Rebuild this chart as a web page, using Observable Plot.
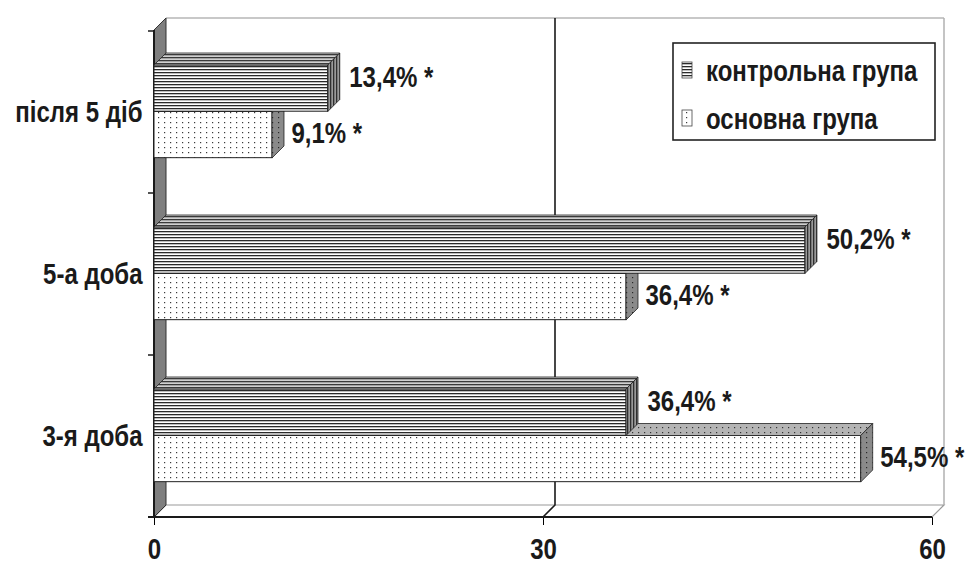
<!DOCTYPE html>
<html>
<head>
<meta charset="utf-8">
<script src="https://cdn.jsdelivr.net/npm/d3@7"></script>
<script src="https://cdn.jsdelivr.net/npm/@observablehq/plot@0.6"></script>
<style>
html, body { margin: 0; padding: 0; background: #fff; }
#chart svg text {
  font-family: "Liberation Sans", Arial, sans-serif;
  font-weight: bold;
  font-size: 30px;
  fill: #1a1a1a;
}
</style>
</head>
<body>
<div id="chart"></div>
<script>
// ---- data ----
const categories = ["після 5 діб", "5-а доба", "3-я доба"];
const groups = ["контрольна група", "основна група"];
const controlValues = [13.4, 50.2, 36.4];
const mainValues = [9.1, 36.4, 54.5];
const controlLabels = ["13,4% *", "50,2% *", "36,4% *"];
const mainLabels = ["9,1% *", "36,4% *", "54,5% *"];
const xDomain = [0, 60];
const xTicks = [0, 30, 60];

const controlData = categories.map((c, i) => ({category: c, group: groups[0], value: controlValues[i], label: controlLabels[i]}));
const mainData = categories.map((c, i) => ({category: c, group: groups[1], value: mainValues[i], label: mainLabels[i]}));

// ---- layout / style ----
const W = 969, H = 563;
const mL = 154, mR = 37, mT = 30, mB = 46;
const D = 12; // 3D depth in px
const bw = (H - mT - mB) / categories.length;
const cTop = 34, cH = 46.5, mH = 46.5; // sub-bar placement inside each band
const narrow = 0.8; // horizontal condensing of text (Arial Narrow look)

function defsMark() {
  const g = d3.create("svg:g");
  const defs = g.append("defs");
  function stripes(id, bg, fg, vertical) {
    const p = defs.append("pattern").attr("id", id).attr("patternUnits", "userSpaceOnUse")
      .attr("width", vertical ? 3 : 6).attr("height", vertical ? 6 : 3);
    p.append("rect").attr("width", 6).attr("height", 6).attr("fill", bg);
    if (vertical) p.append("rect").attr("x", 0).attr("width", 1.3).attr("height", 6).attr("fill", fg);
    else p.append("rect").attr("y", 0).attr("width", 6).attr("height", 1.3).attr("fill", fg);
  }
  function dots(id, bg, fg) {
    const p = defs.append("pattern").attr("id", id).attr("patternUnits", "userSpaceOnUse")
      .attr("width", 6).attr("height", 5);
    p.append("rect").attr("width", 6).attr("height", 5).attr("fill", bg);
    p.append("rect").attr("x", 2).attr("y", 2).attr("width", 1.2).attr("height", 1.2).attr("fill", fg);
  }
  stripes("cFront", "#ffffff", "#2a2a2a", false);
  stripes("cTop", "#d0d0d0", "#3a3a3a", false);
  stripes("cSide", "#9a9a9a", "#303030", true);
  dots("mFront", "#ffffff", "#3a3a3a");
  dots("mTop", "#b4b4b4", "#333333");
  dots("mSide", "#8a8a8a", "#2a2a2a");
  return g.node();
}

function backdrop(index, scales) {
  const x = scales.x, y = scales.y;
  const x0 = x(xDomain[0]), x1 = x(xDomain[1]);
  const yT = mT, yB = H - mB;
  const g = d3.create("svg:g");
  g.append("path").attr("d", `M${x0},${yB}L${x0 + D},${yB - D}L${x1 + D},${yB - D}L${x1},${yB}Z`)
    .attr("fill", "#fff").attr("stroke", "#9a9a9a").attr("stroke-width", 1.2);
  g.append("line").attr("x1", x0 + D).attr("x2", x1 + D).attr("y1", yT - D).attr("y2", yT - D)
    .attr("stroke", "#c8c8c8").attr("stroke-width", 2);
  g.append("line").attr("x1", x1 + D).attr("x2", x1 + D).attr("y1", yT - D).attr("y2", yB - D)
    .attr("stroke", "#b0b0b0").attr("stroke-width", 1.5);
  xTicks.filter(t => t > xDomain[0] && t < xDomain[1]).forEach(t => {
    const xt = x(t);
    g.append("path").attr("d", `M${xt + D},${yT - D}L${xt + D},${yB - D}L${xt},${yB}`)
      .attr("fill", "none").attr("stroke", "#1a1a1a").attr("stroke-width", 1.6);
  });
  g.append("path").attr("d", `M${x0},${yT}L${x0 + D},${yT - D}L${x0 + D},${yB - D}L${x0},${yB}Z`)
    .attr("fill", "#7f7f7f").attr("stroke", "#333").attr("stroke-width", 1);
  g.append("line").attr("x1", x0).attr("x2", x0).attr("y1", yT).attr("y2", yB)
    .attr("stroke", "#1a1a1a").attr("stroke-width", 2);
  const bounds = categories.map(c => y(c)).concat([yB]);
  bounds.forEach(b => {
    g.append("line").attr("x1", x0 - 6).attr("x2", x0).attr("y1", b).attr("y2", b)
      .attr("stroke", "#1a1a1a").attr("stroke-width", 1.5);
  });
  g.append("line").attr("x1", x0 - 6).attr("x2", x1).attr("y1", yB).attr("y2", yB)
    .attr("stroke", "#1a1a1a").attr("stroke-width", 1.8);
  return g.node();
}

function faces(data, off, h, topFill, sideFill) {
  return (index, scales) => {
    const x = scales.x, y = scales.y;
    const g = d3.create("svg:g");
    data.forEach(d => {
      const xa = x(0), xb = x(d.value);
      const t = y(d.category) + off, b = t + h;
      g.append("path").attr("d", `M${xa},${t}L${xa + D},${t - D}L${xb + D},${t - D}L${xb},${t}Z`)
        .attr("fill", topFill).attr("stroke", "#222").attr("stroke-width", 0.8);
      g.append("path").attr("d", `M${xb},${t}L${xb + D},${t - D}L${xb + D},${b - D}L${xb},${b}Z`)
        .attr("fill", sideFill).attr("stroke", "#222").attr("stroke-width", 0.8);
    });
    return g.node();
  };
}

function legend() {
  const g = d3.create("svg:g");
  g.append("rect").attr("x", 673).attr("y", 43).attr("width", 262).attr("height", 97)
    .attr("fill", "#fff").attr("stroke", "#222").attr("stroke-width", 1.6);
  const items = [
    {name: groups[0], fill: "url(#cFront)", y: 81},
    {name: groups[1], fill: "url(#mFront)", y: 129}
  ];
  items.forEach(it => {
    g.append("rect").attr("x", 682).attr("y", it.y - 19).attr("width", 10).attr("height", 16)
      .attr("fill", it.fill).attr("stroke", "#444").attr("stroke-width", 0.8);
    g.append("text").attr("x", 706).attr("y", it.y).attr("text-anchor", "start").text(it.name);
  });
  return g.node();
}

const plot = Plot.plot({
  width: W,
  height: H,
  marginLeft: mL,
  marginRight: mR,
  marginTop: mT,
  marginBottom: mB,
  style: {background: "#fff", overflow: "visible"},
  x: {domain: xDomain, ticks: xTicks, tickSize: 8, tickPadding: 12, tickFormat: d => String(d), label: null},
  y: {domain: categories, padding: 0, tickSize: 0, tickPadding: 12, label: null},
  marks: [
    defsMark,
    backdrop,
    Plot.barX(mainData, {x: "value", y: "category", fill: "url(#mFront)", stroke: "#222", strokeWidth: 1,
      insetTop: cTop + cH, insetBottom: bw - cTop - cH - mH}),
    faces(mainData, cTop + cH, mH, "url(#mTop)", "url(#mSide)"),
    Plot.barX(controlData, {x: "value", y: "category", fill: "url(#cFront)", stroke: "#222", strokeWidth: 1,
      insetTop: cTop, insetBottom: bw - cTop - cH}),
    faces(controlData, cTop, cH, "url(#cTop)", "url(#cSide)"),
    Plot.text(controlData, {x: "value", y: "category", text: "label", textAnchor: "start", dx: 21, dy: -35}),
    Plot.text(mainData, {x: "value", y: "category", text: "label", textAnchor: "start", dx: 19, dy: 21}),
    legend
  ]
});
document.getElementById("chart").appendChild(plot);

// condense all texts horizontally to mimic a narrow typeface
plot.querySelectorAll("text").forEach(t => {
  const w = t.getComputedTextLength();
  if (w > 0) {
    t.setAttribute("textLength", (w * narrow).toFixed(1));
    t.setAttribute("lengthAdjust", "spacingAndGlyphs");
  }
});
</script>
</body>
</html>
